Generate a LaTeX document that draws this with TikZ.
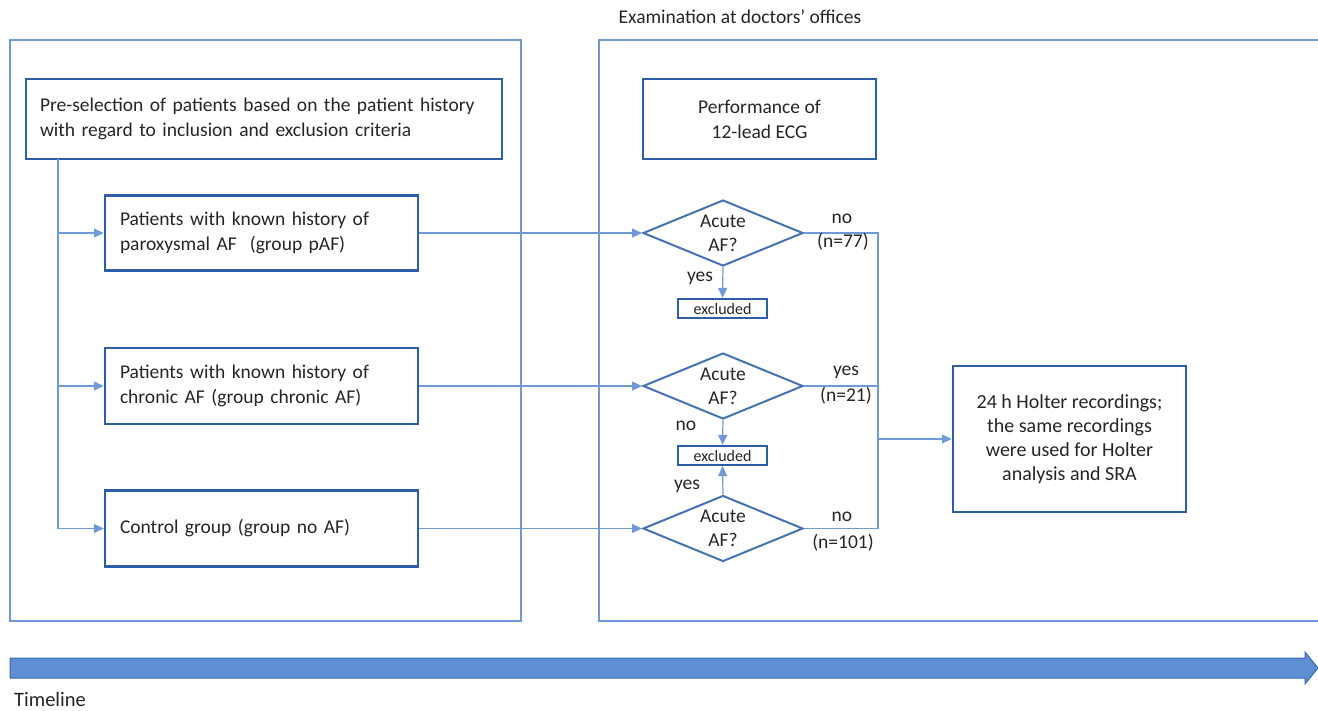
\documentclass[tikz,border=0pt]{standalone}
\usepackage{fontspec}
\setmainfont{Carlito}
\usetikzlibrary{shapes.geometric,arrows.meta}
\definecolor{boxblue}{HTML}{2F5EA8}
\definecolor{lineblue}{HTML}{6F9AD6}
\definecolor{diablue}{HTML}{4472B8}
\definecolor{tlfill}{HTML}{5D8FD2}
\definecolor{tledge}{HTML}{3A68AE}
\definecolor{txt}{HTML}{262626}
\tikzset{
  frame/.style={draw=lineblue, line width=1.2pt},
  stepbox/.style={draw=boxblue, line width=2.4pt, rectangle, text=txt, font=\fontsize{19.5}{25}\selectfont},
  decision/.style={draw=diablue, line width=2pt, diamond, aspect=2.42, inner sep=0pt, minimum width=160pt, minimum height=66pt, align=center, text=txt, font=\fontsize{19.5}{24}\selectfont},
  exbox/.style={draw=boxblue, line width=2.2pt, rectangle, minimum width=89pt, minimum height=19pt, inner sep=0pt, text=txt, font=\fontsize{16}{16}\selectfont},
  conn/.style={draw=lineblue, line width=1.2pt},
  arr/.style={conn, -{Triangle[length=10pt,width=9pt]}},
  lbl/.style={text=txt, font=\fontsize{19.5}{22}\selectfont, inner sep=0pt}
}
\begin{document}
\begin{tikzpicture}[x=1pt,y=-1pt]
\useasboundingbox[fill=white] (0,0) rectangle (1318,710);
% frames
\draw[frame] (10,40) rectangle (521,621);
\draw[frame] (1320,40) -- (599,40) -- (599,621) -- (1320,621);
\node[lbl, font=\fontsize{19.5}{22}\selectfont] (title) at (740,17) {Examination at doctors’ offices};
% left column
\node[stepbox, minimum width=476pt, minimum height=80pt, text width=448pt, inner xsep=14pt, align=left] (pre) at (264,119)
  {Pre-selection of patients based on the patient history\\with regard to inclusion and exclusion criteria};
\node[stepbox, minimum width=313pt, minimum height=75pt, text width=283pt, inner xsep=15pt, align=left] (paf) at (261.5,233)
  {Patients with known history of\\paroxysmal AF\ \ (group pAF)};
\node[stepbox, minimum width=313pt, minimum height=76pt, text width=283pt, inner xsep=15pt, align=left] (chr) at (261.5,386)
  {Patients with known history of\\chronic AF (group chronic AF)};
\node[stepbox, minimum width=313pt, minimum height=76pt, text width=283pt, inner xsep=15pt, align=left] (ctl) at (261.5,528.5)
  {Control group (group no AF)};
\coordinate (v0) at (58,159);
\coordinate (v1) at (58,233);
\coordinate (v2) at (58,386);
\coordinate (v3) at (58,528.5);
\draw[conn] (v0) -- (v3);
\draw[arr] (v1) -- (paf.west);
\draw[arr] (v2) -- (chr.west);
\draw[arr] (v3) -- (ctl.west);
% right column
\node[stepbox, minimum width=233pt, minimum height=80pt, align=center] (perf) at (759.5,119)
  {Performance of\\12-lead ECG};
\node[decision] (d1) at (723,233) {Acute\\AF?};
\node[decision] (d2) at (723,386) {Acute\\AF?};
\node[decision] (d3) at (723,528.5) {Acute\\AF?};
\node[exbox] (ex1) at (722.5,308.5) {excluded};
\node[exbox] (ex2) at (722.5,455.5) {excluded};
\draw[arr] (paf.east) -- (d1.west);
\draw[arr] (chr.east) -- (d2.west);
\draw[arr] (ctl.east) -- (d3.west);
\draw[arr] (d1.south) -- (ex1.north);
\draw[arr] (d2.south) -- (ex2.north);
\draw[arr] (d3.north) -- (ex2.south);
\node[lbl] (y1) at (700,278) {yes};
\node[lbl] (n2) at (686,426) {no};
\node[lbl] (y3) at (687,486) {yes};
\coordinate (r1) at (878,233);
\coordinate (r2) at (878,386);
\coordinate (r3) at (878,528.5);
\coordinate (rj) at (878,439);
\draw[conn] (d1.east) -- (r1) -- (r3) -- (d3.east);
\draw[conn] (d2.east) -- (r2);
\node[lbl] (l1a) at (842,219) {no};
\node[lbl] (l1b) at (843,242) {(n=77)};
\node[lbl] (l2a) at (846,372) {yes};
\node[lbl] (l2b) at (846,396) {(n=21)};
\node[lbl] (l3a) at (842,517) {no};
\node[lbl] (l3b) at (843,543) {(n=101)};
\node[stepbox, minimum width=233pt, minimum height=146pt, align=center, font=\fontsize{20}{24}\selectfont] (holter) at (1069.5,439)
  {24 h Holter recordings;\\the same recordings\\were used for Holter\\analysis and SRA};
\draw[arr] (rj) -- (holter.west);
% timeline
\draw[fill=tlfill, draw=tledge, line width=1pt] (10,658) -- (1305,658) -- (1305,652) -- (1318,668) -- (1305,684) -- (1305,678) -- (10,678) -- cycle;
\node[lbl, anchor=west, font=\fontsize{20.5}{22}\selectfont] (tl) at (14,699.5) {Timeline};
\end{tikzpicture}
\end{document}
